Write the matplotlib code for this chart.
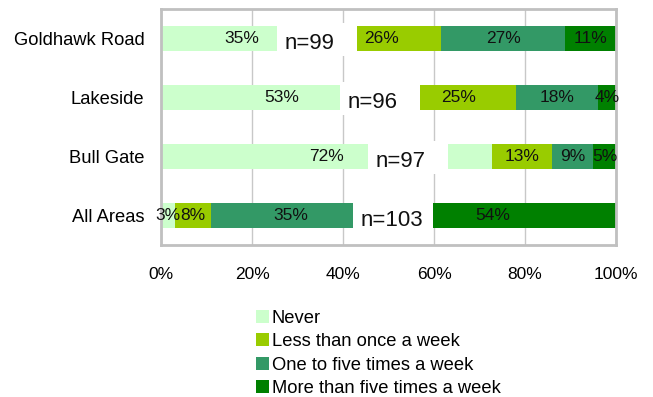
import matplotlib
matplotlib.use("Agg")
import matplotlib.pyplot as plt
from matplotlib.patches import Rectangle
from matplotlib.ticker import FixedLocator, PercentFormatter
import numpy as np

plt.rcParams["font.family"] = ["Liberation Sans", "DejaVu Sans"]

# Survey data (percent of respondents)
areas = ["Goldhawk Road", "Lakeside", "Bull Gate", "All Areas"]
never = [35, 53, 72, 3]
less_than_weekly = [26, 25, 13, 8]
one_to_five = [27, 18, 9, 35]
more_than_five = [11, 4, 5, 54]
sample_sizes = [99, 96, 97, 103]

series_names = ["Never", "Less than once a week",
                "One to five times a week", "More than five times a week"]
series_colors = ["#CCFFCC", "#99CC00", "#339966", "#008000"]
tick_values = [0, 20, 40, 60, 80, 100]

# left edge of each sample-size label box (percent axis units)
n_box_left = [25.5, 39.3, 45.5, 42.2]

W, H = 653, 397
fig = plt.figure(figsize=(W / 100, H / 100), dpi=100)
ax = fig.add_axes([161 / W, (H - 245) / H, 455 / W, 236 / H])

series = np.array([never, less_than_weekly, one_to_five, more_than_five], dtype=float)
shares = series / series.sum(axis=0) * 100  # 100% stacked
y = np.arange(len(areas))
bar_h = 0.42
left = np.zeros(len(areas))
for vals, shr, name, col in zip(series, shares, series_names, series_colors):
    ax.barh(y, shr, left=left, height=bar_h, color=col, label=name, zorder=2)
    for yi, (v, s, l) in enumerate(zip(vals, shr, left)):
        ax.text(l + s / 2, yi, f"{int(v)}%", ha="center", va="center",
                fontsize=12.5, color="#111111", zorder=3)
    left += shr

# sample-size labels in white boxes
px_x = 100 / 455  # percent per pixel
px_y = 1 / 59     # category units per pixel
for yi, (n, bl) in enumerate(zip(sample_sizes, n_box_left)):
    ax.add_patch(Rectangle((bl, yi - 16 * px_y), 80 * px_x, 33 * px_y,
                           facecolor="white", edgecolor="none", zorder=4))
    ax.text(bl + 8 * px_x, yi + 5 * px_y, f"n={n}", ha="left", va="center",
            fontsize=16, color="#111111", zorder=5)

ax.set_xlim(0, 100)
ax.set_ylim(len(areas) - 0.5, -0.5)
ax.xaxis.set_major_locator(FixedLocator(tick_values))
ax.xaxis.set_major_formatter(PercentFormatter(decimals=0))
ax.set_yticks(y)
ax.set_yticklabels(areas)
ax.tick_params(axis="x", length=0, pad=16, labelsize=12.5)
ax.tick_params(axis="y", length=0, pad=12, labelsize=13.2)
ax.grid(axis="x", color="#C8C8C8", linewidth=1, zorder=0)
ax.set_axisbelow(True)
for sp in ax.spines.values():
    sp.set_color("#C0C0C0")
    sp.set_linewidth(2)

handles, labels = ax.get_legend_handles_labels()
fig.legend(handles, labels, loc="upper left",
           bbox_to_anchor=(252 / W, 1 - 306 / H), frameon=False,
           fontsize=13.2, handlelength=0.72, handleheight=0.72,
           handletextpad=0.15, labelspacing=0.35, borderpad=0.2,
           borderaxespad=0)

fig.savefig("out.png", dpi=100, facecolor="white")
